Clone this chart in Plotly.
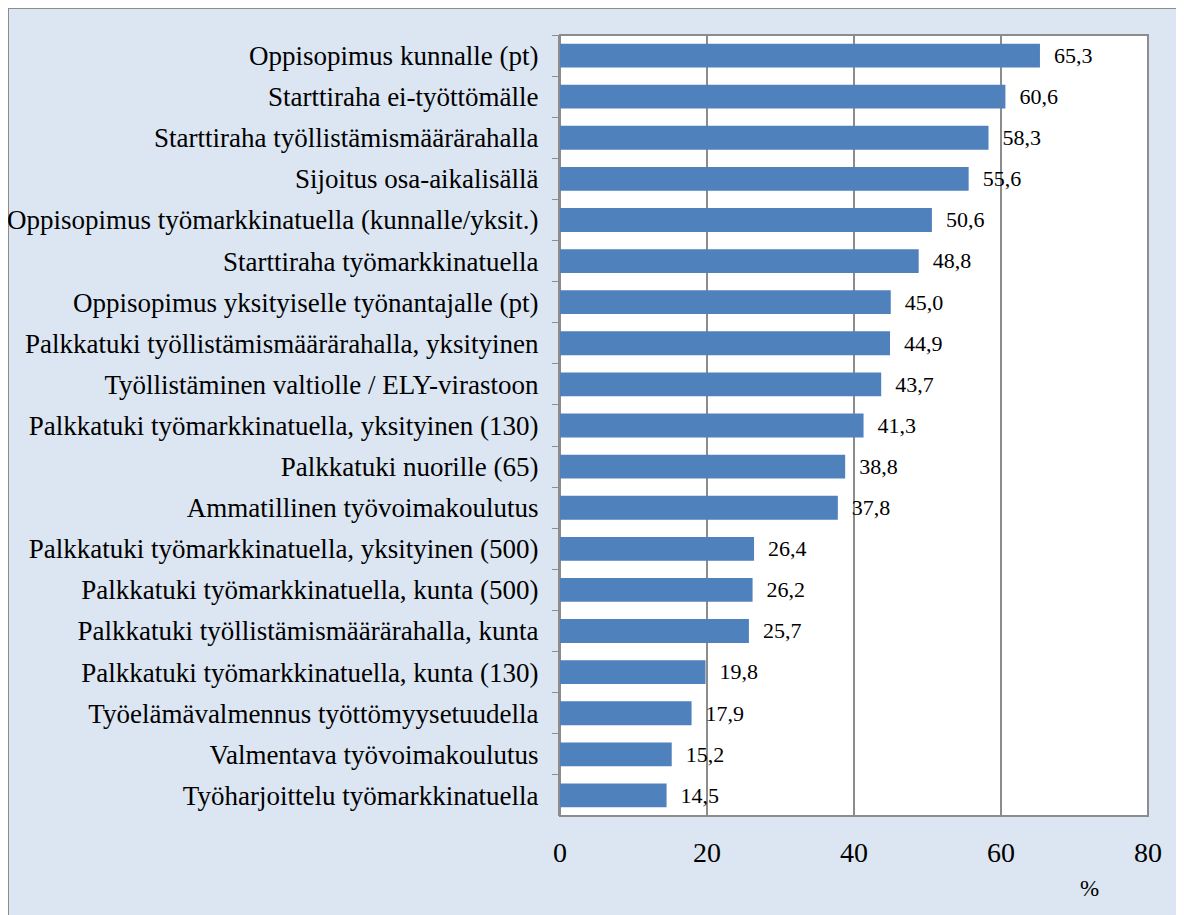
import plotly.graph_objects as go

categories = [
    "Oppisopimus kunnalle (pt)",
    "Starttiraha ei-työttömälle",
    "Starttiraha työllistämismäärärahalla",
    "Sijoitus osa-aikalisällä",
    "Oppisopimus työmarkkinatuella (kunnalle/yksit.)",
    "Starttiraha työmarkkinatuella",
    "Oppisopimus yksityiselle työnantajalle (pt)",
    "Palkkatuki työllistämismäärärahalla, yksityinen",
    "Työllistäminen valtiolle / ELY-virastoon",
    "Palkkatuki työmarkkinatuella, yksityinen (130)",
    "Palkkatuki nuorille (65)",
    "Ammatillinen työvoimakoulutus",
    "Palkkatuki työmarkkinatuella, yksityinen (500)",
    "Palkkatuki työmarkkinatuella, kunta (500)",
    "Palkkatuki työllistämismäärärahalla, kunta",
    "Palkkatuki työmarkkinatuella, kunta (130)",
    "Työelämävalmennus työttömyysetuudella",
    "Valmentava työvoimakoulutus",
    "Työharjoittelu työmarkkinatuella",
]
values = [65.3, 60.6, 58.3, 55.6, 50.6, 48.8, 45.0, 44.9, 43.7, 41.3,
          38.8, 37.8, 26.4, 26.2, 25.7, 19.8, 17.9, 15.2, 14.5]
x_ticks = [0, 20, 40, 60, 80]

labels = ["\u00a0\u00a0" + f"{v:.1f}".replace(".", ",") for v in values]

font = "Liberation Serif"

fig = go.Figure(go.Bar(
    x=values, y=categories, orientation="h",
    marker=dict(color="#4f81bd", line=dict(width=0)),
    width=0.58,
    text=labels, textposition="outside", cliponaxis=False,
    textfont=dict(family=font, size=24, color="black"),
))

# page body adds an 8px offset, so work in shifted pixel coords
OFF = 8
FW, FH = 1184, 915
L, T = 560 - OFF, 35 - OFF
R, B = FW - (1148 - OFF), FH - (816 - OFF)
W, H = FW - L - R, FH - T - B

fig.update_layout(
    width=FW, height=FH,
    margin=dict(l=L, r=R, t=T, b=B, autoexpand=False),
    paper_bgcolor="#dce6f2", plot_bgcolor="white",
    showlegend=False,
    font=dict(family=font, size=27, color="black"),
    shapes=[
        dict(type="line", xref="paper", yref="paper", layer="below",
             x0=-L / W, x1=-L / W, y0=-2, y1=1 + T / H,
             line=dict(color="#8c8c8c", width=2)),
        dict(type="line", xref="paper", yref="paper", layer="below",
             x0=-L / W, x1=2, y0=1 + T / H, y1=1 + T / H,
             line=dict(color="#8c8c8c", width=2)),
        dict(type="rect", xref="paper", yref="paper", layer="below",
             x0=0, x1=1, y0=0, y1=1,
             fillcolor="white", line=dict(color="#8c8c8c", width=2)),
    ],
    annotations=[dict(text="%", xref="paper", yref="paper",
                      x=(1089 - OFF - L) / W, xanchor="center",
                      y=-((888 - OFF) - (T + H)) / H, yanchor="middle",
                      showarrow=False, font=dict(family=font, size=23))],
)
fig.update_xaxes(
    range=[0, 80], tickvals=x_ticks, showgrid=True, gridcolor="#8c8c8c", gridwidth=1.5,
    zeroline=False, showline=False, ticks="outside", ticklen=0,
    ticklabelstandoff=11, tickfont=dict(size=28), automargin=False,
)
fig.update_yaxes(
    autorange="reversed", showline=True, linecolor="#8c8c8c", linewidth=2,
    ticks="outside", tickson="boundaries", ticklen=6, tickcolor="#8c8c8c",
    ticklabelstandoff=14, showgrid=False, automargin=False,
)

fig.write_html("out.html")
